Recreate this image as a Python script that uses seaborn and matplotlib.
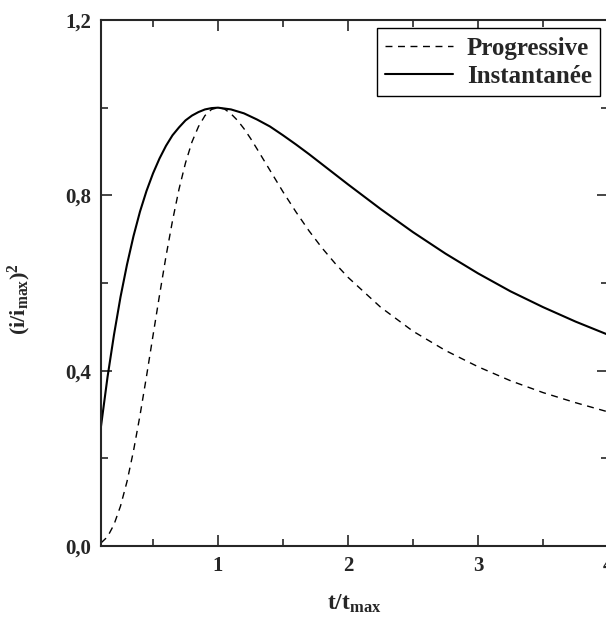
import matplotlib
matplotlib.use("Agg")
import matplotlib.pyplot as plt
import seaborn as sns
import pandas as pd
from matplotlib.ticker import MultipleLocator, FuncFormatter

sns.set_style("ticks")
plt.rcParams["font.family"] = ["Liberation Serif", "DejaVu Serif"]
plt.rcParams["font.weight"] = "bold"
plt.rcParams["mathtext.fontset"] = "custom"
plt.rcParams["mathtext.rm"] = "Liberation Serif:bold"
plt.rcParams["mathtext.it"] = "Liberation Serif:bold"
plt.rcParams["mathtext.bf"] = "Liberation Serif:bold"
plt.rcParams["mathtext.default"] = "rm"

# valeurs
t_inst = [0.1, 0.15, 0.2, 0.25, 0.3, 0.35, 0.4, 0.45, 0.5, 0.55, 0.6, 0.65, 0.7, 0.75, 0.8,
          0.85, 0.9, 0.95, 1.0, 1.1, 1.2, 1.3, 1.4, 1.5, 1.6, 1.7, 1.8, 1.9, 2.0, 2.25, 2.5,
          2.75, 3.0, 3.25, 3.5, 3.75, 4.0]
y_inst = [0.273, 0.385, 0.482, 0.568, 0.642, 0.707, 0.763, 0.810, 0.850, 0.884, 0.913, 0.937,
          0.955, 0.971, 0.982, 0.990, 0.996, 0.999, 1.000, 0.996, 0.987, 0.973, 0.957, 0.937,
          0.916, 0.894, 0.871, 0.848, 0.825, 0.769, 0.716, 0.667, 0.622, 0.581, 0.545, 0.512,
          0.482]

t_prog = [0.1, 0.15, 0.2, 0.25, 0.3, 0.35, 0.4, 0.45, 0.5, 0.55, 0.6, 0.65, 0.7, 0.75, 0.8,
          0.85, 0.9, 0.95, 1.0, 1.05, 1.1, 1.15, 1.2, 1.25, 1.3, 1.4, 1.5, 1.6, 1.7, 1.8, 1.9,
          2.0, 2.25, 2.5, 2.75, 3.0, 3.25, 3.5, 3.75, 4.0]
y_prog = [0.007, 0.021, 0.049, 0.091, 0.147, 0.217, 0.298, 0.387, 0.480, 0.572, 0.661, 0.742,
          0.814, 0.874, 0.922, 0.957, 0.982, 0.996, 1.000, 0.997, 0.986, 0.971, 0.952, 0.930,
          0.906, 0.857, 0.808, 0.762, 0.719, 0.680, 0.645, 0.613, 0.545, 0.490, 0.446, 0.409,
          0.377, 0.350, 0.327, 0.306]

df_i = pd.DataFrame({"t": t_inst, "y": y_inst})
df_p = pd.DataFrame({"t": t_prog, "y": y_prog})

fig = plt.figure(figsize=(6.06, 6.18), dpi=100)
ax = fig.add_axes([101 / 606, 72 / 618, 507 / 606, 526 / 618])

sns.lineplot(data=df_p, x="t", y="y", ax=ax, color="black", lw=1.0,
             linestyle=(0, (5, 4)), label="Progressive")
sns.lineplot(data=df_i, x="t", y="y", ax=ax, color="black", lw=1.5,
             label="Instantanée")

ax.set_xlim(0.1, 4.0)
ax.set_ylim(0.0, 1.2)
ax.xaxis.set_major_locator(MultipleLocator(1))
ax.xaxis.set_minor_locator(MultipleLocator(0.5))
ax.yaxis.set_major_locator(MultipleLocator(0.4))
ax.yaxis.set_minor_locator(MultipleLocator(0.2))
ax.yaxis.set_major_formatter(FuncFormatter(lambda v, p: f"{v:.1f}".replace(".", ",")))
ax.xaxis.set_major_formatter(FuncFormatter(lambda v, p: f"{v:.0f}"))

ax.tick_params(which="both", direction="in", top=True, right=True, width=1.2,
               labelsize=15, pad=7)
ax.tick_params(which="major", length=8)
ax.tick_params(which="minor", length=5)
for s in ax.spines.values():
    s.set_linewidth(1.5)
    s.set_visible(True)

ax.set_xlabel(r"t/t$_{max}$", fontsize=17, fontweight="bold", labelpad=12)
ax.set_ylabel(r"(i/i$_{max}$)$^2$", fontsize=16, fontweight="bold")
ax.yaxis.set_label_coords(-0.135, 0.47)

leg = ax.legend(loc="upper right", bbox_to_anchor=(0.985, 0.985), fontsize=18,
                frameon=True, fancybox=False, handlelength=2.7, handletextpad=0.55,
                borderpad=0.35, labelspacing=0.2, borderaxespad=0.0)
leg.get_frame().set_edgecolor("black")
leg.get_frame().set_linewidth(1.0)
leg.get_frame().set_alpha(1)

fig.savefig("out.png", dpi=100)
